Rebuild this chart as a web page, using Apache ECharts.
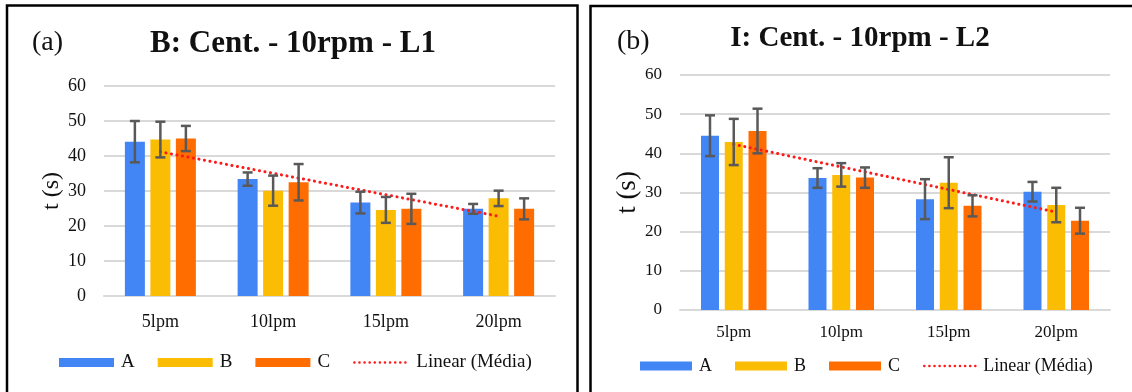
<!DOCTYPE html>
<html>
<head>
    <meta charset="utf-8">
    <title>Cent. - 10rpm - L1 / L2</title>
    <script src="https://cdn.jsdelivr.net/npm/echarts@6/dist/echarts.min.js"></script>
    <style>
        html, body { margin: 0; padding: 0; background: #fff; }
        #chart { width: 1132px; height: 392px; }
    </style>
</head>
<body>
    <div id="chart"></div>

    <script>
        // categorias (vazão)
        const categories = ['5lpm', '10lpm', '15lpm', '20lpm'];
        const seriesNames = ['A', 'B', 'C'];
        const trendName = 'Linear (Média)';

        // (a) B: Cent. - 10rpm - L1
        const l1A = [44.1, 33.4, 26.7, 24.9];
        const l1B = [44.7, 30.1, 24.6, 27.9];
        const l1C = [45.0, 32.5, 24.9, 24.9];
        const l1AErr = [5.9, 1.9, 3.1, 1.4];
        const l1BErr = [5.1, 4.3, 3.7, 2.2];
        const l1CErr = [3.6, 5.2, 4.3, 3.0];
        const l1Trend = [41.2, null, null, 22.8];

        // (b) I: Cent. - 10rpm - L2
        const l2A = [44.5, 33.7, 28.3, 30.2];
        const l2B = [42.9, 34.5, 32.5, 26.8];
        const l2C = [45.7, 33.8, 26.6, 22.8];
        const l2AErr = [5.2, 2.5, 5.1, 2.5];
        const l2BErr = [5.9, 3.0, 6.5, 4.4];
        const l2CErr = [5.7, 2.6, 2.7, 3.3];
        const l2Trend = [42.3, null, null, 25.0];

        const yTicks = { min: 0, max: 60, interval: 10 };

        const colors = ['#4285F4', '#FBBC04', '#FF6D01'];
        const font = 'Liberation Serif';
        const textColor = '#111';
        const gridColor = '#d9d9d9';

        // barras de erro (+/-) desenhadas pela escala do eixo
        function errorData(vals, errs) {
            const out = [];
            vals.forEach((v, s) => {
                v.forEach((y, i) => out.push([i, s, y - errs[s][i], y + errs[s][i]]));
            });
            return out;
        }

        function errorRender(barW, gapW) {
            return function (params, api) {
                const off = (api.value(1) - 1) * (barW + gapW);
                const hi = api.coord([api.value(0), api.value(3)]);
                const lo = api.coord([api.value(0), api.value(2)]);
                const x = hi[0] + off;
                const cap = 5;
                const style = { stroke: '#595959', lineWidth: 2.5 };
                return {
                    type: 'group',
                    children: [
                        { type: 'line', shape: { x1: x, y1: hi[1], x2: x, y2: lo[1] }, style },
                        { type: 'line', shape: { x1: x - cap, y1: hi[1], x2: x + cap, y2: hi[1] }, style },
                        { type: 'line', shape: { x1: x - cap, y1: lo[1], x2: x + cap, y2: lo[1] }, style }
                    ]
                };
            };
        }

        function xAxisFor(gridIndex, size, margin) {
            return {
                type: 'category', gridIndex, data: categories,
                axisLine: { lineStyle: { color: gridColor, width: 2 } },
                axisTick: { show: false },
                axisLabel: { fontFamily: font, fontSize: size, color: textColor, margin }
            };
        }

        function yAxisFor(gridIndex, size, nameSize, nameGap) {
            return {
                type: 'value', gridIndex, ...yTicks,
                name: 't (s)', nameLocation: 'middle', nameGap,
                nameTextStyle: { fontFamily: font, fontSize: nameSize, color: textColor },
                axisLabel: { fontFamily: font, fontSize: size, color: textColor, margin: 18 },
                splitLine: { lineStyle: { color: gridColor, width: 2 } }
            };
        }

        function panelSeries(idx, vals, errs, trend, barW, gapPct) {
            const list = vals.map((v, s) => ({
                name: seriesNames[s], type: 'bar',
                xAxisIndex: idx, yAxisIndex: idx,
                data: v, barWidth: barW, barGap: gapPct,
                itemStyle: { color: colors[s] }
            }));
            list.push({
                name: trendName, type: 'line',
                xAxisIndex: idx, yAxisIndex: idx,
                data: trend, connectNulls: true, symbol: 'none',
                itemStyle: { color: '#ff1a1a' },
                lineStyle: { color: '#ff1a1a', width: 3, type: [0.1, 5.5], cap: 'round' },
                z: 4
            });
            list.push({
                type: 'custom', xAxisIndex: idx, yAxisIndex: idx,
                renderItem: errorRender(barW, barW * parseFloat(gapPct) / 100),
                encode: { x: 0, y: [2, 3] },
                data: errorData(vals, errs),
                z: 5, silent: true
            });
            return list;
        }

        function legendFor(left, top, w, size) {
            return {
                left, top, padding: 0, itemWidth: w, itemHeight: 9, itemGap: 23,
                textStyle: { fontFamily: font, fontSize: size, color: textColor, padding: [0, 0, 0, 2] },
                data: [
                    { name: 'A', icon: 'rect' },
                    { name: 'B', icon: 'rect' },
                    { name: 'C', icon: 'rect' },
                    {
                        name: trendName,
                        itemStyle: { color: 'rgba(0,0,0,0)', borderWidth: 0 },
                        lineStyle: { color: '#ff1a1a', width: 2.5, type: [0.1, 5], cap: 'round' }
                    }
                ]
            };
        }

        const chart = echarts.init(document.getElementById('chart'));
        chart.setOption({
            animation: false,
            title: [
                { text: '(a)', left: 32, top: 29, padding: 0, textStyle: { fontFamily: font, fontSize: 28, fontWeight: 'normal', color: textColor } },
                { text: 'B: Cent. - 10rpm - L1', left: 293, top: 28, padding: 0, textAlign: 'center', textStyle: { fontFamily: font, fontSize: 31, fontWeight: 'bold', color: textColor } },
                { text: '(b)', left: 617, top: 28, padding: 0, textStyle: { fontFamily: font, fontSize: 28, fontWeight: 'normal', color: textColor } },
                { text: 'I: Cent. - 10rpm - L2', left: 860, top: 24, padding: 0, textAlign: 'center', textStyle: { fontFamily: font, fontSize: 29, fontWeight: 'bold', color: textColor } }
            ],
            legend: [
                legendFor(59, 353, 55, 19),
                legendFor(640, 357, 52, 18)
            ],
            grid: [
                { left: 104, right: 577, top: 86, bottom: 96 },
                { left: 680, right: 22, top: 75, bottom: 82 }
            ],
            xAxis: [xAxisFor(0, 18, 17), xAxisFor(1, 17, 14)],
            yAxis: [yAxisFor(0, 18, 24, 40), yAxisFor(1, 17, 27, 38)],
            series: [
                ...panelSeries(0, [l1A, l1B, l1C], [l1AErr, l1BErr, l1CErr], l1Trend, 20, '27.5%'),
                ...panelSeries(1, [l2A, l2B, l2C], [l2AErr, l2BErr, l2CErr], l2Trend, 18, '32%')
            ],
            graphic: [
                { type: 'rect', shape: { x: 7, y: 5.5, width: 570.5, height: 400 }, style: { fill: 'none', stroke: '#000', lineWidth: 2.5 }, silent: true },
                { type: 'rect', shape: { x: 590.5, y: 6, width: 560, height: 400 }, style: { fill: 'none', stroke: '#000', lineWidth: 2.5 }, silent: true }
            ]
        });
    </script>
</body>
</html>
